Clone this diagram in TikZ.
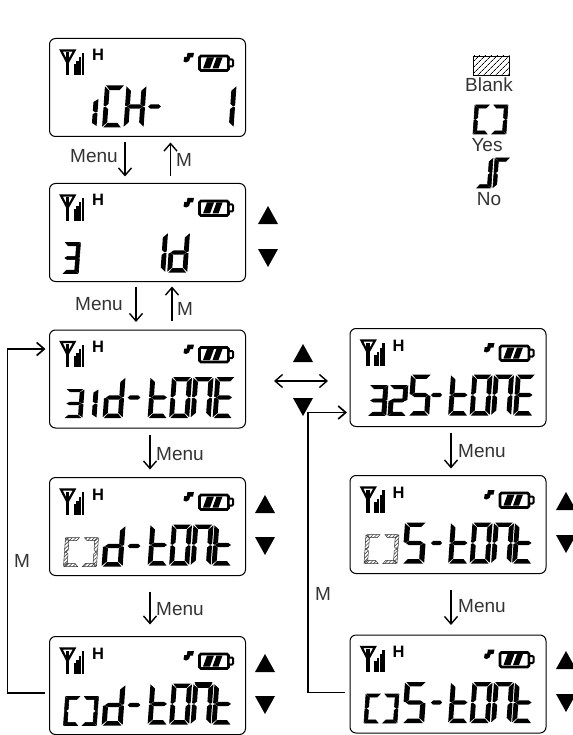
\documentclass[tikz,border=0pt]{standalone}
\usepackage{fontspec}
\setmainfont{Liberation Sans}
\usetikzlibrary{arrows.meta,patterns.meta}
\definecolor{LabelGray}{HTML}{333333}
\newcommand{\segA}{(1.2,0)--(18.8,0)--(15,4.6)--(5,4.6)--cycle}
\newcommand{\segB}{(20,0.8)--(20,20)--(18,20.8)--(15.2,18.4)--(15.2,5.2)--cycle}
\newcommand{\segC}{(20,41.2)--(20,22)--(18,21.2)--(15.2,23.6)--(15.2,36.8)--cycle}
\newcommand{\segD}{(1.2,42)--(18.8,42)--(15,37.4)--(5,37.4)--cycle}
\newcommand{\segE}{(0,41.2)--(0,22)--(2,21.2)--(4.8,23.6)--(4.8,36.8)--cycle}
\newcommand{\segF}{(0,0.8)--(0,20)--(2,20.8)--(4.8,18.4)--(4.8,5.2)--cycle}
\newcommand{\segG}{(2,21)--(5,18.8)--(15,18.8)--(18,21)--(15,23.2)--(5,23.2)--cycle}
\newcommand{\lcdglyph}[6][lcdseg]{%
  \begin{scope}[shift={(#2,#3)},xslant=0.07,xscale=#4/20,yscale=#5/42]
    \foreach \s in {#6}{\path[#1] \csname seg\s\endcsname;}
  \end{scope}}
\newcommand{\lcdicons}[1]{%
  \begin{scope}[shift={(#1.north west)}]
    \draw[line width=2.2pt,line join=miter] (11.5,12)--(25,12)--(18,24.5)--cycle;
    \draw[line width=3.4pt] (18,14)--(18,37);
    \foreach \bx/\by in {24.2/26,26.9/23,29.6/19,32.3/14.5}{\fill (\bx,\by) rectangle ++(2.3,37-\by);}
    \node[anchor=base,font=\bfseries\fontsize{16.5}{16.5}\selectfont,inner sep=0pt] (#1H) at (48.5,22.5) {H};
    \fill (134,23)--(134.8,18.5)--(137.2,18.5)--(138,14.5)--(144.5,14.5)--(143.5,19)--(140.8,19)--(139.5,22.5)--(136.5,24)--cycle;
    \draw[line width=2.8pt,rounded corners=1.5pt] (150,17.5) rectangle (179,32);
    \draw[line width=2pt,fill=white,rounded corners=1pt] (179,21) rectangle (183.5,28);
    \fill (153.5,30)--(157.5,19)--(164.5,19)--(160.5,30)--cycle (163,30)--(167,19)--(173,19)--(169,30)--cycle;
  \end{scope}}
\newcommand{\yesglyph}[3][boldseg]{%
  \lcdglyph[#1]{#2}{#3}{15}{29}{A,F,E,D}
  \lcdglyph[#1]{#2+18}{#3}{15}{29}{A,B,C,D}}
\newcommand{\toneword}{%
  \lcdglyph{101}{47}{20}{41}{F,E,G,D}
  \lcdglyph{122.5}{47}{20}{41}{A,B,C,D,E,F}
  \lcdglyph{144}{47}{20}{41}{A,B,C,E,F}}
\newcommand{\tontail}{%
  \toneword
  \lcdglyph{165}{47}{20}{41}{F,E,G,D}}
\newcommand{\tonetail}{%
  \toneword
  \lcdglyph{166}{47}{20}{41}{A,F,E,G,D}}
\begin{document}
\begin{tikzpicture}[x=1pt,y=-1pt,>={Straight Barb[length=7.5pt,width=13pt]},
  lcd/.style={draw,line width=1pt,rounded corners=6pt,minimum width=196pt,minimum height=98pt,inner sep=0pt,outer sep=0pt},
  lcdseg/.style={fill=black},
  boldseg/.style={fill=black,draw=black,line width=.6pt},
  hatchseg/.style={draw=black!80,line width=.5pt,pattern={Lines[angle=45,distance=2.6pt,line width=.7pt]},pattern color=black!70},
  flow/.style={->,line width=1.4pt},
  keylabel/.style={anchor=base west,text=LabelGray,font=\fontsize{19}{19}\selectfont,inner sep=0pt},
  legendlabel/.style={anchor=base,text=LabelGray,font=\fontsize{19}{19}\selectfont,inner sep=0pt}]
  \useasboundingbox (0,0) rectangle (572,735);

  \node[lcd] (chone) at (147.5,87.5) {};
  \node[lcd] (idmenu) at (147.5,232.5) {};
  \node[lcd] (idtone) at (147.5,379) {};
  \node[lcd] (idask) at (147.5,526.5) {};
  \node[lcd] (idyes) at (147.5,685.5) {};
  \node[lcd] (sqtone) at (448,377.5) {};
  \node[lcd] (sqask) at (448,524.5) {};
  \node[lcd] (sqyes) at (448,684) {};
  \foreach \n in {chone,idmenu,idtone,idask,idyes,sqtone,sqask,sqyes}{\lcdicons{\n}}

  \begin{scope}[shift={(chone.north west)}]
    \lcdglyph{29}{60}{20}{28}{B,C}
    \lcdglyph{55.5}{47}{20}{42}{A,F,E,D}
    \lcdglyph{77}{47}{20}{42}{F,E,B,C,G}
    \lcdglyph{98.5}{47}{16}{42}{G}
    \lcdglyph{167}{47}{20}{42}{B,C}
  \end{scope}
  \begin{scope}[shift={(idmenu.north west)}]
    \lcdglyph[boldseg]{15}{59}{16}{31}{A,G,D,B,C}
    \lcdglyph{98.5}{49}{20}{40}{B,C}
    \lcdglyph{120.5}{49}{20}{40}{G,E,D,B,C}
  \end{scope}
  \begin{scope}[shift={(idtone.north west)}]
    \lcdglyph{16}{59}{19}{29}{A,G,D,B,C}
    \lcdglyph{29}{59}{20}{29}{B,C}
    \lcdglyph{56}{47}{20}{41}{G,E,D,B,C}
    \lcdglyph{78}{47}{16}{41}{G}
    \tonetail
  \end{scope}
  \begin{scope}[shift={(idask.north west)}]
    \yesglyph[hatchseg]{16}{60}
    \lcdglyph{55}{48}{21}{41}{G,E,D,B,C}
    \lcdglyph{78}{48}{16}{41}{G}
    \tontail
  \end{scope}
  \begin{scope}[shift={(idyes.north west)}]
    \yesglyph{16}{60}
    \lcdglyph{55}{48}{21}{41}{G,E,D,B,C}
    \lcdglyph{78}{48}{16}{41}{G}
    \tontail
    \fill (145,45.5)--(163,45.5)--(160,51)--(148,51)--cycle;
  \end{scope}
  \begin{scope}[shift={(sqtone.north west)}]
    \lcdglyph[boldseg]{20}{57}{18}{30}{A,G,D,B,C}
    \lcdglyph[boldseg]{40}{57}{18}{30}{A,B,G,E,D}
    \lcdglyph{61}{46}{21}{41}{A,F,G,C,D}
    \lcdglyph{81}{46}{14}{41}{G}
    \begin{scope}[yshift=1pt]\tonetail\end{scope}
  \end{scope}
  \begin{scope}[shift={(sqask.north west)}]
    \yesglyph[hatchseg]{16}{59}
    \lcdglyph{55}{47}{22}{41}{A,F,G,C,D}
    \lcdglyph{81}{47}{14}{41}{G}
    \tontail
  \end{scope}
  \begin{scope}[shift={(sqyes.north west)}]
    \yesglyph{16}{59}
    \lcdglyph{55}{47}{22}{41}{A,F,G,C,D}
    \lcdglyph{81}{47}{14}{41}{G}
    \tontail
  \end{scope}

  \foreach \tx/\ty in {258/224,255/513,255/672,293/362,556/510,556/669}{
    \fill (\tx,\ty)--++(20,0)--++(-10,-18)--cycle;
  }
  \foreach \tx/\ty in {258/249,255/537,255/696,293/398,556/535,556/694}{
    \fill (\tx,\ty)--++(20,0)--++(-10,18)--cycle;
  }

  \draw[flow,shorten <=6pt,shorten >=7pt] ([xshift=-22.5pt]chone.south)--([xshift=-22.5pt]idmenu.north);
  \draw[flow,shorten <=7pt,shorten >=6pt] ([xshift=23pt]idmenu.north)--([xshift=23pt]chone.south);
  \draw[flow,shorten <=5pt,shorten >=8pt] ([xshift=-11.5pt]idmenu.south)--([xshift=-11.5pt]idtone.north);
  \draw[flow,shorten <=9pt,shorten >=5pt] ([xshift=24.5pt]idtone.north)--([xshift=24.5pt]idmenu.south);
  \draw[flow,shorten <=7pt,shorten >=8pt] ([xshift=2.5pt]idtone.south)--([xshift=2.5pt]idask.north);
  \draw[flow,shorten <=16pt,shorten >=12pt] ([xshift=2.5pt]idask.south)--([xshift=2.5pt]idyes.north);
  \draw[flow,shorten <=6pt,shorten >=7pt] ([xshift=3pt]sqtone.south)--([xshift=3pt]sqask.north);
  \draw[flow,shorten <=16pt,shorten >=10pt] ([xshift=3pt]sqask.south)--([xshift=3pt]sqyes.north);

  \coordinate (swapleft) at (274,381);
  \coordinate (swapright) at (328,381);
  \draw[<->,line width=1.4pt] (swapleft)--(swapright);

  \draw[flow,line width=1.7pt] ([xshift=-5pt,yshift=-7.5pt]idyes.west)--++(-37,0) |- ([xshift=-4pt,yshift=30pt]idtone.west);
  \draw[flow,line width=1.7pt] ([xshift=-5pt,yshift=-8.5pt]sqyes.west)--++(-37,0) |- ([xshift=-3pt,yshift=-35pt]sqtone.west);

  \node[keylabel] (menua) at (70,163) {Menu};
  \node[keylabel] (ma) at (176,167) {M};
  \node[keylabel] (menub) at (75,310) {Menu};
  \node[keylabel] (mb) at (177,315) {M};
  \node[keylabel] (menuc) at (156,460) {Menu};
  \node[keylabel] (menud) at (156,615) {Menu};
  \node[keylabel] (menue) at (458,457) {Menu};
  \node[keylabel] (menuf) at (458,612) {Menu};
  \node[keylabel] (mc) at (14,567) {M};
  \node[keylabel] (md) at (315,600) {M};

  \node[draw,line width=.7pt,pattern={Lines[angle=45,distance=4pt,line width=.7pt]},minimum width=36pt,minimum height=19pt,inner sep=0pt] (blankbox) at (491.5,65.5) {};
  \node[legendlabel] (blanklabel) at (489,92) {Blank};
  \yesglyph{475}{105}
  \node[legendlabel] (yeslabel) at (487,152) {Yes};
  \lcdglyph[boldseg]{478}{158}{15}{30}{D,B,C}
  \lcdglyph[boldseg]{495}{158}{15}{30}{A,F,E}
  \node[legendlabel] (nolabel) at (489,205) {No};
\end{tikzpicture}
\end{document}
